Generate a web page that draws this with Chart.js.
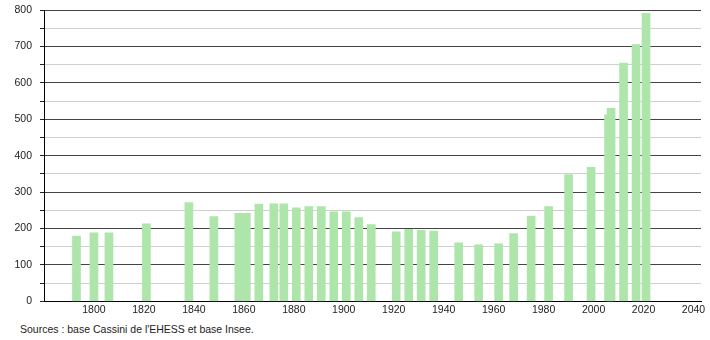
<!DOCTYPE html>
<html>
<head>
<meta charset="utf-8">
<script src="https://cdn.jsdelivr.net/npm/chart.js@4.4.0/dist/chart.umd.min.js"></script>
<style>
    body { margin: 0; background: #fff; }
    #wrap { position: relative; width: 710px; height: 340px; }
    #chart { position: absolute; left: 0; top: 0; }
    #source {
        position: absolute; left: 20px; top: 323px;
        font: 10.5px "Liberation Sans", Arial, sans-serif; color: #222;
    }
</style>
</head>
<body>
<div id="wrap">
    <canvas id="chart" width="710" height="318"></canvas>
    <div id="source">Sources : base Cassini de l'EHESS et base Insee.</div>
</div>
<script>
// ---------------- Data ----------------
const years = [1793, 1800, 1806, 1821, 1838, 1848, 1858, 1861, 1866, 1872, 1876, 1881, 1886, 1891, 1896,
    1901, 1906, 1911, 1921, 1926, 1931, 1936, 1946, 1954, 1962, 1968, 1975, 1982, 1990, 1999,
    2006, 2007, 2012, 2017, 2021];
const population = [179, 188, 188, 213, 271, 233, 242, 242, 267, 268, 268, 257, 260, 260, 246,
    246, 230, 211, 191, 198, 195, 193, 161, 155, 158, 186, 234, 260, 348, 368,
    512, 530, 654, 705, 791];
const xTicks = [1800, 1820, 1840, 1860, 1880, 1900, 1920, 1940, 1960, 1980, 2000, 2020, 2040];
const yTicks = [0, 50, 100, 150, 200, 250, 300, 350, 400, 450, 500, 550, 600, 650, 700, 750, 800];

const points = years.map(function(y, i) {
    return { x: y, y: population[i] };
});

const font = { family: "'Liberation Sans', Arial, sans-serif", size: 10.5 };

new Chart(document.getElementById("chart").getContext("2d"), {
    type: "bar",
    data: {
        datasets: [{
            data: points,
            backgroundColor: "#aee5ab",
            borderWidth: 0,
            barThickness: 8,
        }],
    },
    options: {
        responsive: false,
        animation: false,
        events: [],
        layout: { padding: { left: 0, right: 9, top: 10, bottom: 0 } },
        plugins: { legend: { display: false }, tooltip: { enabled: false } },
        scales: {
            x: {
                type: "linear",
                offset: false,
                min: 1780,
                max: 2043,
                afterBuildTicks: function(scale) {
                    scale.ticks = xTicks.map(function(v) { return { value: v }; });
                },
                grid: { display: false, drawTicks: false },
                border: { display: true, color: "#000", width: 1 },
                ticks: {
                    color: "#222", font: font, padding: 2, maxRotation: 0,
                    callback: function(v) { return String(v); },
                },
            },
            y: {
                min: 0,
                max: 800,
                afterBuildTicks: function(scale) {
                    scale.ticks = yTicks.map(function(v) { return { value: v }; });
                },
                afterFit: function(scale) {
                    scale.width = 44;
                    scale.paddingTop = 0;
                    scale.paddingBottom = 0;
                },
                grid: {
                    color: function(ctx) {
                        return ctx.tick && ctx.tick.value % 100 === 0 ? "#444" : "#cfcfcf";
                    },
                    tickColor: "#222",
                    tickLength: 4,
                },
                border: { color: "#000", width: 1 },
                ticks: {
                    color: "#222",
                    font: font,
                    padding: 8,
                    callback: function(v) { return v % 100 === 0 ? String(v) : ""; },
                },
            },
        },
    },
});
</script>
</body>
</html>
